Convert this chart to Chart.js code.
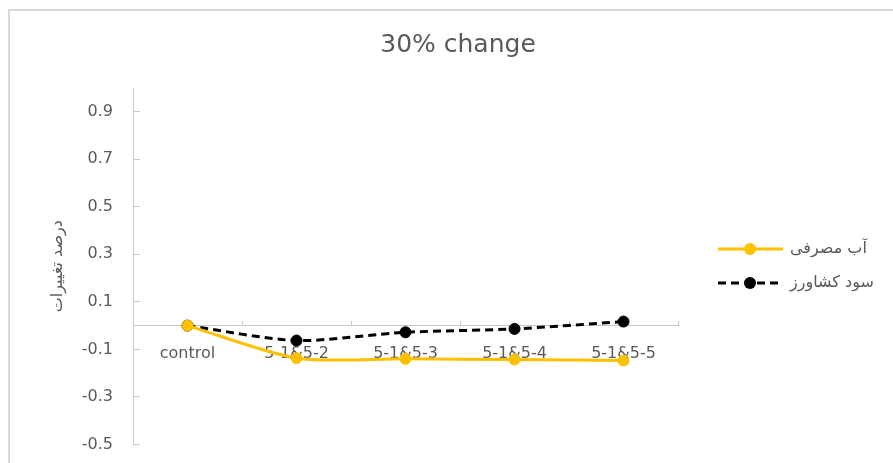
<!DOCTYPE html>
<html>
<head>
<meta charset="utf-8">
<script src="https://cdn.jsdelivr.net/npm/chart.js@4"></script>
<style>
  html, body { margin: 0; padding: 0; background: #fff; overflow: hidden; }
  #frame {
    position: absolute;
    left: 8px;
    top: 9px;
    width: 896px;
    height: 470px;
    border-top: 2px solid #d9d9d9;
    border-left: 2px solid #d9d9d9;
  }
</style>
</head>
<body>
<div id="frame"><canvas id="chart"></canvas></div>
<script>
const categories = ["control", "5-1&5-2", "5-1&5-3", "5-1&5-4", "5-1&5-5"];
const waterUse = [0, -0.137, -0.140, -0.143, -0.147];
const farmerProfit = [0, -0.063, -0.028, -0.014, 0.017];
const yTicks = [-0.5, -0.3, -0.1, 0.1, 0.3, 0.5, 0.7, 0.9];

const seriesNames = ["آب مصرفی", "سود کشاورز"];
const colors = ["#FFC000", "#000000"];
const textColor = "#595959";
const axisColor = "#c8c8c8";
const font = "DejaVu Sans";

// title and the line+marker legend on the right, drawn straight onto the canvas
const decorations = {
  id: "decorations",
  afterDraw(chart) {
    const ctx = chart.ctx;
    const area = chart.chartArea;
    ctx.save();
    ctx.fillStyle = textColor;
    ctx.font = "25px " + font;
    ctx.textAlign = "center";
    ctx.textBaseline = "middle";
    ctx.fillText("30% change", chart.width / 2, 34);

    const x0 = area.right + 40;
    const rows = [238, 272];
    chart.data.datasets.forEach((ds, i) => {
      const y = rows[i];
      ctx.strokeStyle = ds.borderColor;
      ctx.lineWidth = 3;
      ctx.setLineDash(ds.borderDash || []);
      ctx.beginPath();
      ctx.moveTo(x0, y);
      ctx.lineTo(x0 + 65, y);
      ctx.stroke();
      ctx.setLineDash([]);
      ctx.fillStyle = ds.borderColor;
      ctx.beginPath();
      ctx.arc(x0 + 32, y, 6, 0, Math.PI * 2);
      ctx.fill();
      ctx.fillStyle = textColor;
      ctx.font = "16px " + font;
      ctx.textAlign = "left";
      ctx.textBaseline = "middle";
      ctx.fillText(ds.label, x0 + 72, y);
    });
    ctx.restore();
  }
};

new Chart(document.getElementById("chart"), {
  type: "line",
  data: {
    labels: categories,
    datasets: [
      {
        label: seriesNames[0],
        data: waterUse,
        borderColor: colors[0],
        backgroundColor: colors[0],
        pointBackgroundColor: colors[0],
        pointBorderColor: colors[0],
        borderWidth: 3,
        pointRadius: 5.5,
        pointBorderWidth: 1,
        tension: 0.25,
        fill: false
      },
      {
        label: seriesNames[1],
        data: farmerProfit,
        borderColor: colors[1],
        backgroundColor: colors[1],
        pointBackgroundColor: colors[1],
        pointBorderColor: colors[1],
        borderWidth: 3,
        borderDash: [8, 5],
        pointRadius: 5.5,
        pointBorderWidth: 1,
        tension: 0.25,
        fill: false
      }
    ]
  },
  options: {
    responsive: true,
    maintainAspectRatio: false,
    animation: false,
    layout: { padding: { top: 77, right: 228, bottom: 35, left: 0 } },
    plugins: {
      legend: { display: false },
      title: { display: false },
      tooltip: { enabled: false }
    },
    scales: {
      x: {
        position: { y: 0 },
        offset: true,
        grid: {
          offset: true,
          drawOnChartArea: false,
          color: axisColor,
          tickLength: -5
        },
        border: { color: axisColor, width: 1 },
        ticks: {
          color: textColor,
          font: { family: font, size: 16 },
          padding: 24,
          maxRotation: 0,
          autoSkip: false
        }
      },
      y: {
        min: -0.5,
        max: 1.0,
        afterBuildTicks(scale) {
          scale.ticks = yTicks.map((v) => ({ value: v }));
        },
        afterFit(scale) {
          scale.width = 123;
        },
        grid: {
          drawOnChartArea: false,
          color: axisColor,
          tickLength: -7
        },
        border: { color: axisColor, width: 1 },
        ticks: {
          color: textColor,
          font: { family: font, size: 16 },
          padding: 27,
          callback: (v) => v.toFixed(1)
        },
        title: {
          display: true,
          text: "درصد تغییرات",
          color: textColor,
          font: { family: font, size: 16 },
          padding: { top: 38, bottom: 0 }
        }
      }
    }
  },
  plugins: [decorations]
});
</script>
</body>
</html>
